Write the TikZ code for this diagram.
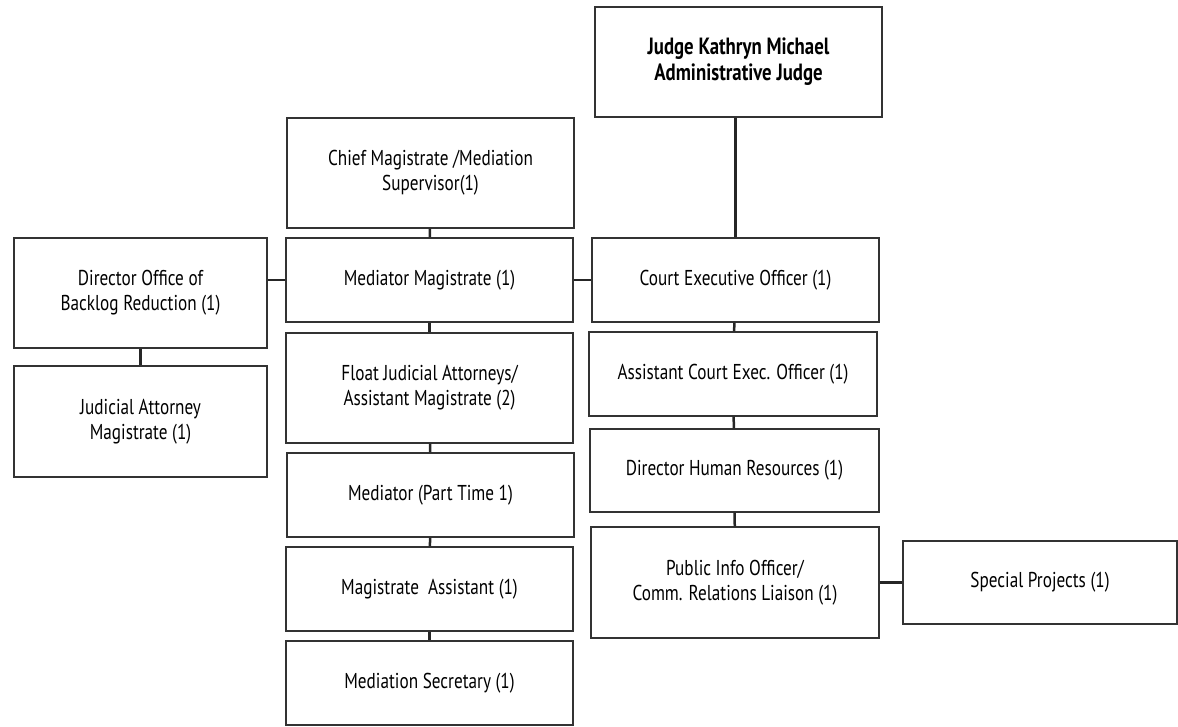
\documentclass[tikz,border=0pt]{standalone}
\usepackage{fontspec}
\setmainfont[FakeStretch=0.8]{PT Sans}
\begin{document}
\begin{tikzpicture}[x=1pt,y=-1pt]
		\tikzset{box/.style = {shape=rectangle,draw=black!80,line width=1.3pt,align=center,
				font=\fontsize{21.5}{25}\selectfont,inner sep=0pt,minimum height=84pt}}
		\tikzset{link/.style = {draw=black!85,line width=2.5pt}}
		\useasboundingbox (0,0) rectangle (1178,726);
		\node[box,minimum width=287pt,minimum height=110pt,font=\fontsize{23.5}{26}\selectfont\bfseries] (judge) at (738.5,62) {Judge Kathryn Michael\\Administrative Judge};
		\node[box,minimum width=287pt,minimum height=110pt] (chief) at (430.5,173) {Chief Magistrate /Mediation\\Supervisor(1)};
		\node[box,minimum width=287pt] (medmag) at (429.5,280) {Mediator Magistrate (1)};
		\node[box,minimum width=287pt,minimum height=110pt] (float) at (429.5,388) {Float Judicial Attorneys/\\Assistant Magistrate (2)};
		\node[box,minimum width=287pt] (medpt) at (430.5,495) {Mediator (Part Time 1)};
		\node[box,minimum width=287pt] (magasst) at (429.5,589) {Magistrate\ \ Assistant (1)};
		\node[box,minimum width=287pt] (medsec) at (429.5,683) {Mediation Secretary (1)};
		\node[box,minimum width=253pt,minimum height=110pt] (backlog) at (140.5,293) {Director Office of\\Backlog Reduction (1)};
		\node[box,minimum width=253pt,minimum height=111pt] (judatty) at (140.5,421.5) {Judicial Attorney\\Magistrate (1)};
		\node[box,minimum width=287pt] (ceo) at (735.5,280) {Court Executive Officer (1)};
		\node[box,minimum width=288pt] (asstceo) at (733,374) {Assistant Court Exec. Officer (1)};
		\node[box,minimum width=289pt,minimum height=83pt] (hr) at (734.5,470.5) {Director Human Resources (1)};
		\node[box,minimum width=288pt,minimum height=111pt] (pio) at (735,582.5) {Public Info Officer/\\Comm. Relations Liaison (1)};
		\node[box,minimum width=274pt,minimum height=83pt] (special) at (1040,582.5) {Special Projects (1)};
		% connectors
		\path[link] (ceo.north) -- (ceo.north |- judge.south);
		\path[link] (chief) -- (medmag);
		\path[link] (medmag) -- (float);
		\path[link] (float) -- (medpt);
		\path[link] (medpt) -- (magasst);
		\path[link] (magasst) -- (medsec);
		\path[link] (medmag.west) -- (medmag.west -| backlog.east);
		\path[link] (medmag.east) -- (ceo.west);
		\path[link] (backlog) -- (judatty);
		\path[link] (ceo) -- (asstceo);
		\path[link] (asstceo) -- (hr);
		\path[link] (hr) -- (pio);
		\path[link] (pio) -- (special);
	\end{tikzpicture}
\end{document}
